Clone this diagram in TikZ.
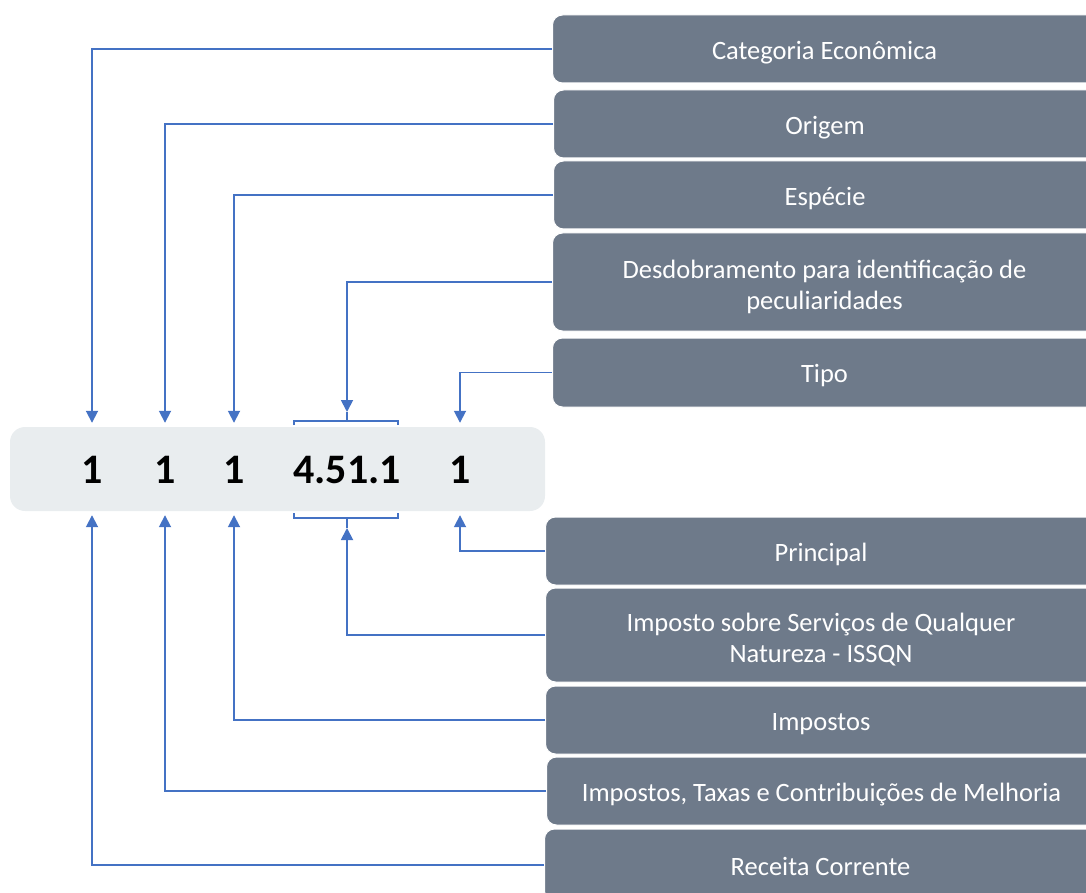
\documentclass[tikz,border=0pt]{standalone}
\usepackage{fontspec}
\setmainfont{Carlito}
\usepackage{tikz}
\usetikzlibrary{arrows.meta, calc, positioning}

\definecolor{boxgray}{HTML}{6E7A8A}
\definecolor{codegray}{HTML}{E9EDEF}
\definecolor{linkblue}{HTML}{4472C4}

\begin{document}
\begin{tikzpicture}[x=1pt, y=-1pt,
    box/.style={rounded corners=10pt, fill=boxgray, draw=white, line width=1pt,
        text=white, font=\fontsize{26.5}{31}\selectfont, align=center,
        anchor=west, inner sep=0pt,
        execute at begin node={\rule{0pt}{26pt}},
        execute at end node={\rule[-5.5pt]{0pt}{5.5pt}}},
    twoline/.style={execute at begin node={\rule{0pt}{61pt}}},
    digit/.style={font=\fontsize{42}{42}\selectfont\bfseries, inner sep=0pt},
    link/.style={draw=linkblue, line width=1.8pt, -{Triangle[length=12pt,width=12pt]}},
    brace/.style={draw=linkblue, line width=1.5pt}]
    \useasboundingbox (0,0) rectangle (1086,893);
    \clip (0,0) rectangle (1086,893);

    % === Code box ===
    \node[fill=codegray, rounded corners=15pt, minimum width=535pt, minimum height=84pt,
        inner sep=0pt] (code) at (277.5,469) {};
    \node[digit] (d1) at (92,470) {1};
    \node[digit] (d2) at (165,470) {1};
    \node[digit] (d3) at (234,470) {1};
    \node[digit] (d4) at (347,470) {4.51.1};
    \node[digit] (d5) at (460,470) {1};

    % === Brackets round 4.51.1 ===
    \coordinate (btop) at (347,412);
    \coordinate (bbot) at (347,528);
    \draw[brace] (294,425) -- (294,421) -- (398,421) -- (398,425);
    \draw[brace] (btop) -- (347,421);
    \draw[brace] (294,513) -- (294,518) -- (398,518) -- (398,513);
    \draw[brace] (bbot) -- (347,518);

    % === Upper boxes ===
    \node[box, minimum width=544pt, minimum height=68pt] (cat) at (552,49) {Categoria Econômica};
    \node[box, minimum width=543pt, minimum height=68pt] (ori) at (553,124) {Origem};
    \node[box, minimum width=543pt, minimum height=68pt] (esp) at (553,195) {Espécie};
    \node[box, twoline, minimum width=544pt, minimum height=98pt] (des) at (552,282)
        {Desdobramento para identificação de\\peculiaridades};
    \node[box, minimum width=544pt, minimum height=69pt] (tip) at (552,372.5) {Tipo};

    % === Lower boxes ===
    \node[box, minimum width=551pt, minimum height=68pt] (pri) at (545,551) {Principal};
    \node[box, twoline, minimum width=551pt, minimum height=94pt] (iss) at (545,635)
        {Imposto sobre Serviços de Qualquer\\Natureza - ISSQN};
    \node[box, minimum width=551pt, minimum height=68pt] (imp) at (545,720) {Impostos};
    \node[box, minimum width=550pt, minimum height=68pt] (itc) at (546,791)
        {Impostos, Taxas e Contribuições de Melhoria};
    \node[box, minimum width=552pt, minimum height=72pt] (rec) at (544,865) {Receita Corrente};

    % === Connectors ===
    \draw[link, shorten >=4pt] (cat.west) -| (d1 |- code.north);
    \draw[link, shorten >=4pt] (ori.west) -| (d2 |- code.north);
    \draw[link, shorten >=4pt] (esp.west) -| (d3 |- code.north);
    \draw[link] (des.west) -| (btop);
    \draw[link, shorten >=4pt] (tip.west) -| (d5 |- code.north);

    \draw[link, shorten >=4pt] (pri.west) -| (d5 |- code.south);
    \draw[link] (iss.west) -| (bbot);
    \draw[link, shorten >=4pt] (imp.west) -| (d3 |- code.south);
    \draw[link, shorten >=4pt] (itc.west) -| (d2 |- code.south);
    \draw[link, shorten >=4pt] (rec.west) -| (d1 |- code.south);
\end{tikzpicture}
\end{document}
